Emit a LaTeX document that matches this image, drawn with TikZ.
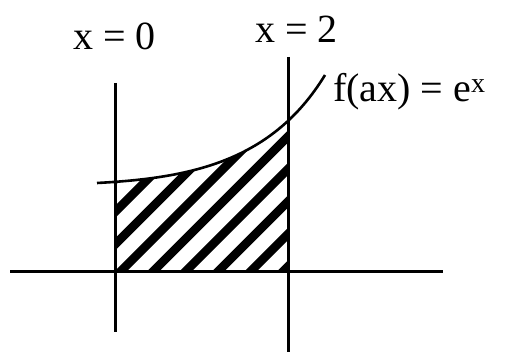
\documentclass[tikz,border=0pt]{standalone}
\usepackage{fontspec}
\setmainfont{Liberation Serif}
\usetikzlibrary{positioning}

\begin{document}
\begin{tikzpicture}[x=1pt, y=-1pt,
    axis/.style={line width=3pt},
    graph/.style={line width=2.6pt},
    hatch/.style={line width=8.5pt},
    lbl/.style={inner sep=0pt, anchor=base west, font=\fontsize{40}{48}\selectfont}]
    \useasboundingbox (0,0) rectangle (509,352);

    \coordinate (xleft) at (10,272);
    \coordinate (xright) at (443,272);
    \coordinate (atop) at (115,83);
    \coordinate (abot) at (115,332);
    \coordinate (btop) at (288,57);
    \coordinate (bbot) at (288,352);
    \coordinate (cstart) at (97,183);
    \coordinate (cend) at (325,75);

    % shaded area under the curve
    \begin{scope}
        \clip (115,40) rectangle (288,272);
        \clip (cstart) .. controls (190,178) and (272,162) .. (cend) -- (325,272) -- (97,272) -- cycle;
        \foreach \k in {-7,...,6}
            \draw [hatch] (120+32.5*\k-30,302) -- ++(260,-260);
    \end{scope}

    \draw [axis] (xleft) -- (xright);
    \draw [axis] (atop) -- (abot);
    \draw [axis] (btop) -- (bbot);
    \draw [graph] (cstart) .. controls (190,178) and (272,162) .. (cend);

    \node [lbl] (lzero) at (73,50) {x = 0};
    \node [lbl] (ltwo) at (255,43) {x = 2};
    \node [lbl] (lfun) at (333,102) {f(ax) = e\textsuperscript{x}};
\end{tikzpicture}
\end{document}
